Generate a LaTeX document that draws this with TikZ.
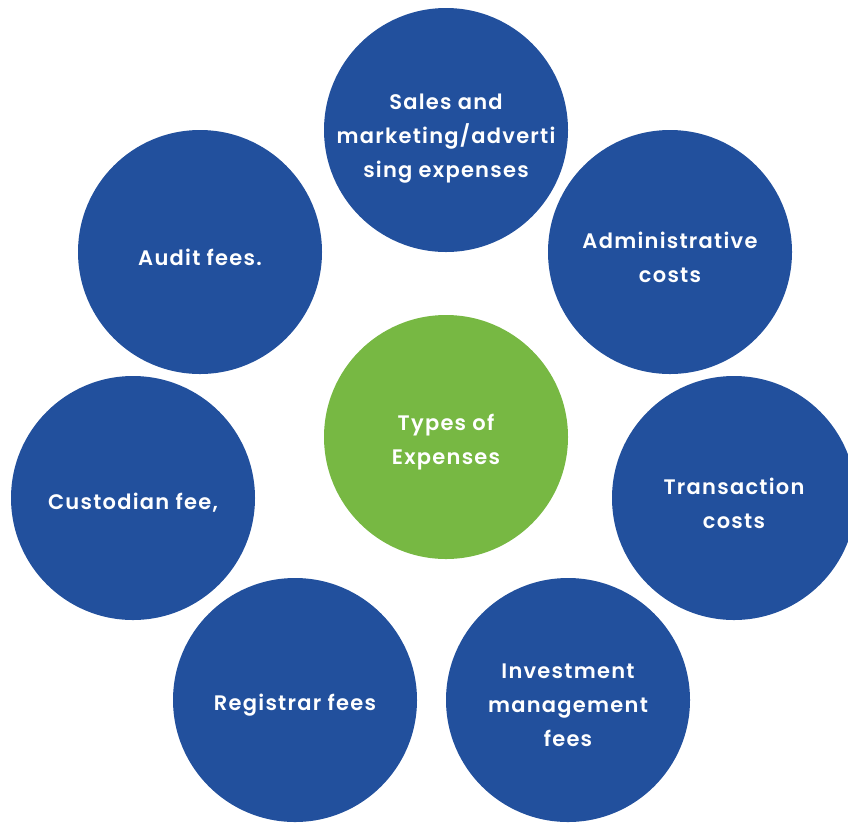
\documentclass[tikz,border=0pt]{standalone}
\usepackage{fontspec}
\newfontfamily\bubblefont{Poppins}[UprightFont={* SemiBold},LetterSpace=6]
\definecolor{petal}{RGB}{34,80,157}
\definecolor{hub}{RGB}{119,184,67}
\begin{document}
\begin{tikzpicture}[x=1pt,y=-1pt,
  bubble/.style={circle,fill=petal,minimum size=244pt,inner sep=0pt},
  center/.style={bubble,fill=hub},
  caption/.style={label={[text=white,align=center,yshift=-5pt,
    font=\bubblefont\fontsize{21}{34}\selectfont]center:#1}},
  lowcaption/.style={label={[text=white,align=center,yshift=-9pt,
    font=\bubblefont\fontsize{21}{34}\selectfont]center:#1}}]
\useasboundingbox (0,0) rectangle (848,823);
\clip (0,0) rectangle (848,823);
\node[center,caption={Types of\\Expenses}] (hub) at (446,437) {};
\node[bubble,lowcaption={Sales and\\marketing/adverti\\sing expenses}] (sales) at (446,130) {};
\node[bubble,caption={Administrative\\costs}] (admin) at (670,252) {};
\node[bubble,caption={Transaction\\costs}] (trans) at (734,498) {};
\node[bubble,caption={Investment\\management\\fees}] (invest) at (568,700) {};
\node[bubble,caption={Registrar fees}] (reg) at (295,700) {};
\node[bubble,caption={Custodian fee,}] (cust) at (133,498) {};
\node[bubble,caption={Audit fees.}] (audit) at (200,252) {};
\end{tikzpicture}
\end{document}
